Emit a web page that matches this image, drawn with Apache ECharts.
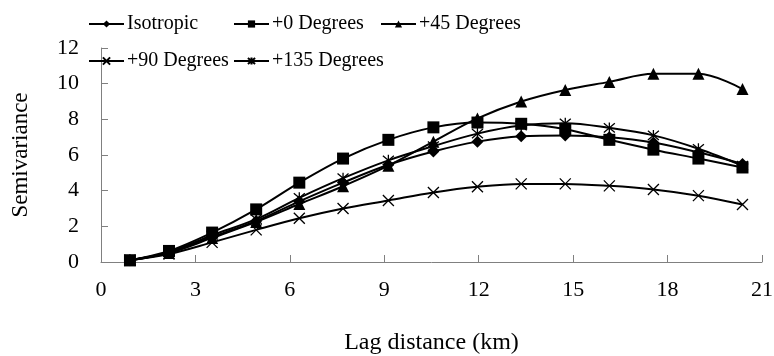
<!DOCTYPE html>
<html>
<head>
<meta charset="utf-8">
<script src="https://cdn.jsdelivr.net/npm/echarts@6/dist/echarts.min.js"></script>
<style>
html,body{margin:0;padding:0;background:#fff;}
#chart{width:774px;height:356px;}
</style>
</head>
<body>
<div id="chart"></div>
<script>
// Lag distance (km)
var lags = [0.92, 2.16, 3.53, 4.93, 6.30, 7.69, 9.13, 10.56, 11.96, 13.35, 14.75, 16.15, 17.55, 18.98, 20.38];
var isotropic = [0.1, 0.55, 1.4, 2.3, 3.4, 4.45, 5.45, 6.2, 6.75, 7.05, 7.1, 7.0, 6.7, 6.15, 5.5];
var deg0 = [0.1, 0.62, 1.65, 2.95, 4.45, 5.8, 6.85, 7.55, 7.82, 7.75, 7.45, 6.85, 6.3, 5.8, 5.3];
var deg45 = [0.1, 0.5, 1.35, 2.25, 3.25, 4.25, 5.4, 6.75, 8.05, 9.0, 9.65, 10.1, 10.55, 10.55, 9.7];
var deg90 = [0.1, 0.45, 1.1, 1.8, 2.45, 3.0, 3.45, 3.9, 4.22, 4.38, 4.38, 4.27, 4.07, 3.72, 3.22];
var deg135 = [0.1, 0.55, 1.5, 2.4, 3.6, 4.7, 5.7, 6.5, 7.2, 7.65, 7.78, 7.52, 7.1, 6.35, 5.4];
var seriesNames = ['Isotropic', '+0 Degrees', '+45 Degrees', '+90 Degrees', '+135 Degrees'];

function pairs(ys) { return lags.map(function (x, i) { return [x, ys[i]]; }); }

var FONT = 'Liberation Serif';
var xSym = 'path://M0,0L10,10M10,0L0,10';
var starSym = 'path://M0,0L10,10M10,0L0,10M5,-1L5,11';

function mkSeries(name, ys, symbol, size, stroke) {
  return {
    name: name,
    type: 'line',
    data: pairs(ys),
    smooth: 0.35,
    symbol: symbol,
    symbolSize: size,
    showAllSymbol: true,
    lineStyle: { color: '#000', width: 2 },
    itemStyle: stroke ? { color: 'rgba(0,0,0,0)', borderColor: '#000', borderWidth: 1.3 } : { color: '#000', borderColor: '#000', borderWidth: 0 },
    emphasis: { disabled: true },
    animation: false
  };
}

var legendPos = [
  { left: 88, top: 14 },
  { left: 233, top: 14 },
  { left: 380, top: 14 },
  { left: 88, top: 51 },
  { left: 233, top: 51 }
];

var chart = echarts.init(document.getElementById('chart'));
chart.setOption({
  backgroundColor: '#fff',
  animation: false,
  legend: legendPos.map(function (p, i) {
    return {
      data: [seriesNames[i]],
      left: p.left, top: p.top,
      itemWidth: 35, itemHeight: 9, itemGap: 0,
      padding: 0,
      selectedMode: false,
      textStyle: { fontFamily: FONT, fontSize: 20, color: '#000', padding: [0, 0, 0, -2] }
    };
  }),
  grid: { left: 101, right: 12, top: 48, bottom: 94, containLabel: false, outerBoundsMode: 'none' },
  xAxis: {
    type: 'value', min: 0, max: 21, interval: 3,
    name: 'Lag distance (km)', nameLocation: 'middle', nameGap: 69,
    nameTextStyle: { fontFamily: FONT, fontSize: 24, color: '#000' },
    axisLine: { lineStyle: { color: '#808080', width: 1 } },
    axisTick: { inside: true, length: 7, lineStyle: { color: '#808080' } },
    axisLabel: { fontFamily: FONT, fontSize: 22, color: '#000', margin: 17 },
    splitLine: { show: false }
  },
  yAxis: {
    type: 'value', min: 0, max: 12, interval: 2,
    name: 'Semivariance', nameLocation: 'middle', nameGap: 69,
    nameTextStyle: { fontFamily: FONT, fontSize: 23, color: '#000' },
    axisLine: { show: true, lineStyle: { color: '#808080', width: 1 } },
    axisTick: { show: true, inside: true, length: 7, lineStyle: { color: '#808080' } },
    axisLabel: { fontFamily: FONT, fontSize: 22, color: '#000', margin: 22 },
    splitLine: { show: false }
  },
  series: [
    mkSeries(seriesNames[0], isotropic, 'diamond', 12, false),
    mkSeries(seriesNames[1], deg0, 'rect', 12, false),
    mkSeries(seriesNames[2], deg45, 'triangle', 12, false),
    mkSeries(seriesNames[3], deg90, xSym, 11, true),
    mkSeries(seriesNames[4], deg135, starSym, 11, true)
  ]
});
</script>
</body>
</html>
